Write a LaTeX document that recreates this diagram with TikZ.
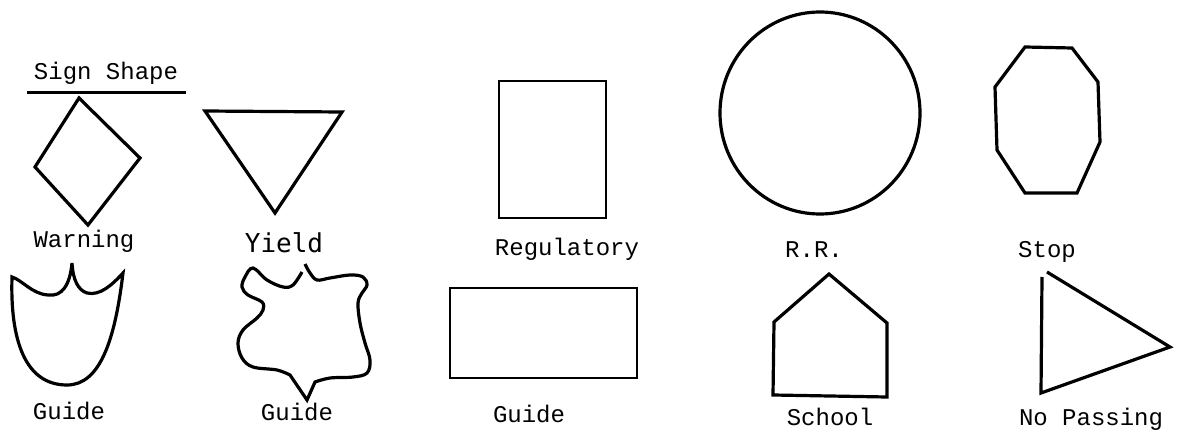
\documentclass[tikz,border=0pt]{standalone}
\usepackage{fontspec}
\setmonofont{Liberation Mono}
\newfontfamily\yieldfont{DejaVu Sans Mono}
\tikzset{x=1pt,y=-1pt,line join=round,line cap=round,
  signline/.style={line width=3.2pt},
  thinsign/.style={line width=2.3pt},
  lbl/.style={anchor=base,inner sep=0pt,font=\fontsize{24}{28}\selectfont\ttfamily}}
\begin{document}
\begin{tikzpicture}
    \useasboundingbox (0,0) rectangle (1180,433);
    % heading
    \node[lbl] (title) at (106,80) {Sign Shape};
    \draw[line width=3pt] (27,93) -- (186,93);
    % top row
    \draw[signline] (79,98) -- (140,158) -- (88,225) -- (35,167) -- cycle;
    \node[lbl] (warning) at (84,247) {Warning};
    \draw[signline] (205,111) -- (342,112) -- (275,213) -- cycle;
    \node[lbl,font=\fontsize{26}{30}\selectfont\yieldfont] (yield) at (284,252) {Yield};
    \draw[thinsign] (499,81) rectangle (606,218);
    \node[lbl] (regulatory) at (567,255) {Regulatory};
    \draw[signline] (820,113) circle [x radius=100,y radius=101];
    \node[lbl] (rr) at (814,257) {R.R.};
    \draw[signline] (1025,47) -- (1072,48) -- (1098,82) -- (1100,142) -- (1077,193) -- (1025,193) -- (997,150) -- (995,87) -- cycle;
    \node[lbl] (stop) at (1047,257) {Stop};
    % bottom row
    \draw[signline] (72,263) .. controls (70,285) and (62,297) .. (48,295)
      .. controls (32,294) and (22,280) .. (12,277)
      .. controls (10,340) and (25,385) .. (67,385)
      .. controls (100,385) and (115,340) .. (123,273)
      .. controls (112,285) and (100,296) .. (87,293)
      .. controls (78,290) and (73,280) .. (72,263);
    \node[lbl] (guideA) at (69,419) {Guide};
    \draw[signline] plot[smooth,tension=0.6] coordinates {(302,272) (293,285) (283,287) (267,280) (253,268) (245,277) (242,287) (248,295) (262,302) (263,310) (257,318) (243,330) (238,343) (242,358) (253,367) (277,370) (290,375)}
      -- (307,400) -- plot[smooth,tension=0.6] coordinates {(315,382) (330,378) (353,377) (367,373) (370,360) (365,343) (360,323) (358,303) (362,293) (367,285) (363,277) (350,275) (330,278) (317,280) (310,273) (305,264)};
    \node[lbl] (guideB) at (297,420) {Guide};
    \draw[thinsign] (450,288) rectangle (637,378);
    \node[lbl] (guideC) at (529,422) {Guide};
    \draw[signline] (829,274) -- (887,323) -- (887,397) -- (773,395) -- (774,322) -- cycle;
    \node[lbl] (school) at (830,425) {School};
    \draw[signline] (1047,272) -- (1170,347) -- (1041,393) -- (1042,277);
    \node[lbl] (nopassing) at (1091,425) {No Passing};
\end{tikzpicture}
\end{document}
